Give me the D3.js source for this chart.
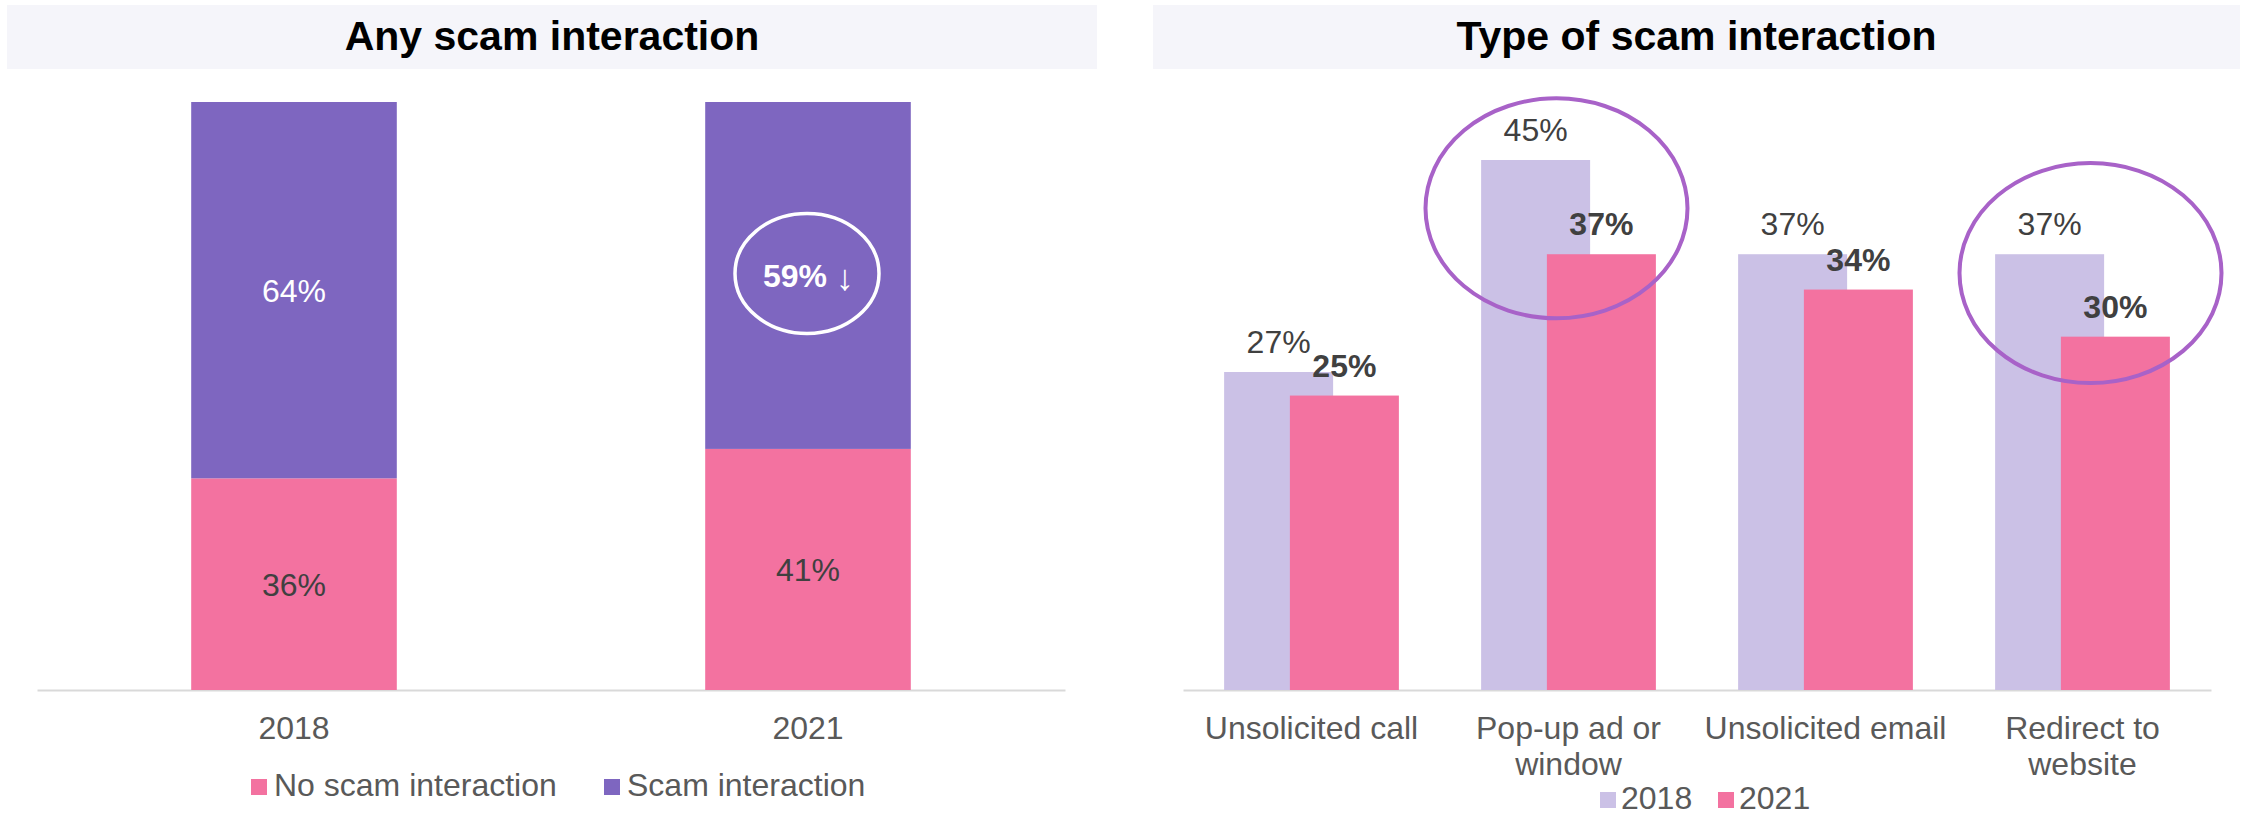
<!DOCTYPE html>
<html>
<head>
<meta charset="utf-8">
<script src="https://cdn.jsdelivr.net/npm/d3@7"></script>
<style>
  body { margin: 0; background: #fff; }
  text { font-family: 'Liberation Sans', Arial, sans-serif; }
</style>
</head>
<body>
<svg id="chart"></svg>
<script>
// left panel: any scam interaction
const years = ['2018', '2021']
const noScam = [36, 41]
const scam = [64, 59]

// right panel: type of scam interaction
const types = ['Unsolicited call', 'Pop-up ad or window', 'Unsolicited email', 'Redirect to website']
const typeLines = [['Unsolicited call'], ['Pop-up ad or', 'window'], ['Unsolicited email'], ['Redirect to', 'website']]
const v2018 = [27, 45, 37, 37]
const v2021 = [25, 37, 34, 30]
const seriesNames = ['2018', '2021']

const width = 2249
const height = 817
const pink = '#f372a0'
const purple = '#7e66c0'
const lavender = '#cbc1e6'
const ring = '#a862c8'

const svg = d3.select('#chart').attr('width', width).attr('height', height)

// title bands
const panels = [
    { title: 'Any scam interaction', x0: 7, x1: 1097 },
    { title: 'Type of scam interaction', x0: 1153, x1: 2240 },
]
panels.forEach((p) => {
    svg.append('rect')
        .attr('x', p.x0).attr('y', 5)
        .attr('width', p.x1 - p.x0).attr('height', 64)
        .attr('fill', '#f5f5fa')
    svg.append('text')
        .attr('x', (p.x0 + p.x1) / 2).attr('y', 50)
        .attr('text-anchor', 'middle')
        .attr('font-size', 41).attr('font-weight', 'bold')
        .attr('fill', '#000')
        .text(p.title)
})

const baseY = 690

// ---------- left: stacked bars ----------
const xL = d3.scaleBand().domain(years).range([37, 1065]).paddingInner(0.6).paddingOuter(0.3)
const yL = d3.scaleLinear().domain([0, 100]).range([baseY, 102])

const axisL = svg.append('g')
    .attr('transform', `translate(0,${baseY})`)
    .call(d3.axisBottom(xL).tickSize(0).tickPadding(26))
axisL.select('.domain').attr('stroke', '#d9d9d9').attr('stroke-width', 2)
axisL.selectAll('text').attr('font-size', 32).attr('fill', '#595959').attr('font-family', 'Liberation Sans, Arial, sans-serif')

years.forEach((yr, i) => {
    svg.append('rect')
        .attr('x', xL(yr)).attr('width', xL.bandwidth())
        .attr('y', yL(noScam[i])).attr('height', yL(0) - yL(noScam[i]))
        .attr('fill', pink)
    svg.append('rect')
        .attr('x', xL(yr)).attr('width', xL.bandwidth())
        .attr('y', yL(noScam[i] + scam[i])).attr('height', yL(noScam[i]) - yL(noScam[i] + scam[i]))
        .attr('fill', purple)

    const cx = xL(yr) + xL.bandwidth() / 2
    svg.append('text')
        .attr('x', cx).attr('y', yL(noScam[i] / 2)).attr('dy', '0.36em')
        .attr('text-anchor', 'middle').attr('font-size', 32).attr('fill', '#404040')
        .text(noScam[i] + '%')

    const midY = yL(noScam[i] + scam[i] / 2)
    if (i === years.length - 1) {
        // highlighted latest value
        svg.append('ellipse')
            .attr('cx', cx - 1).attr('cy', midY - 2)
            .attr('rx', 72).attr('ry', 60)
            .attr('fill', 'none').attr('stroke', '#fff').attr('stroke-width', 3.5)
        svg.append('text')
            .attr('x', cx - 45).attr('y', midY).attr('dy', '0.36em')
            .attr('font-size', 32).attr('font-weight', 'bold').attr('fill', '#fff')
            .text(scam[i] + '%')
        svg.append('text')
            .attr('x', cx + 37).attr('y', midY).attr('dy', '0.4em')
            .attr('text-anchor', 'middle')
            .attr('font-family', 'Noto Sans CJK SC, DejaVu Sans, sans-serif')
            .attr('font-size', 36).attr('fill', '#fff')
            .text('\u2193')
    } else {
        svg.append('text')
            .attr('x', cx).attr('y', midY).attr('dy', '0.36em')
            .attr('text-anchor', 'middle').attr('font-size', 32).attr('fill', '#fff')
            .text(scam[i] + '%')
    }
})

// left legend
const legL = [
    { name: 'No scam interaction', color: pink, x: 251 },
    { name: 'Scam interaction', color: purple, x: 604 },
]
legL.forEach((d) => {
    svg.append('rect').attr('x', d.x).attr('y', 779).attr('width', 16).attr('height', 16).attr('fill', d.color)
    svg.append('text').attr('x', d.x + 23).attr('y', 796)
        .attr('font-size', 32).attr('fill', '#595959').text(d.name)
})

// ---------- right: overlapping grouped bars ----------
const xR = d3.scaleBand().domain(types).range([1183, 2211]).paddingInner(0.32).paddingOuter(0.16)
const yR = d3.scaleLinear().domain([0, 45]).range([baseY, 160])
const barW = 109

const axisR = svg.append('g')
    .attr('transform', `translate(0,${baseY})`)
    .call(d3.axisBottom(xR).tickSize(0).tickPadding(26))
axisR.select('.domain').attr('stroke', '#d9d9d9').attr('stroke-width', 2)
axisR.selectAll('text')
    .attr('font-size', 32).attr('fill', '#595959').attr('font-family', 'Liberation Sans, Arial, sans-serif')
    .each(function (d) {
        const lines = typeLines[types.indexOf(d)]
        const el = d3.select(this).text(null)
        lines.forEach((ln, k) => {
            el.append('tspan').attr('x', 0).attr('dy', k === 0 ? '0.71em' : '1.13em').text(ln)
        })
    })

const series = [
    { name: '2018', values: v2018, color: lavender, bold: false },
    { name: '2021', values: v2021, color: pink, bold: true },
]
series.forEach((s, si) => {
    types.forEach((t, i) => {
        const x = xR(t) + si * (xR.bandwidth() - barW)
        svg.append('rect')
            .attr('x', x).attr('width', barW)
            .attr('y', yR(s.values[i])).attr('height', yR(0) - yR(s.values[i]))
            .attr('fill', s.color)
    })
})
series.forEach((s, si) => {
    types.forEach((t, i) => {
        const x = xR(t) + si * (xR.bandwidth() - barW)
        svg.append('text')
            .attr('x', x + barW / 2).attr('y', yR(s.values[i]) - 19)
            .attr('text-anchor', 'middle').attr('font-size', 32)
            .attr('font-weight', s.bold ? 'bold' : 'normal')
            .attr('fill', '#404040')
            .text(s.values[i] + '%')
    })
})

// highlight rings
const rings = [
    { type: 'Pop-up ad or window', at: 40.9, dx: -12 },
    { type: 'Redirect to website', at: 35.4, dx: 8 },
]
rings.forEach((r) => {
    svg.append('ellipse')
        .attr('cx', xR(r.type) + xR.bandwidth() / 2 + r.dx)
        .attr('cy', yR(r.at))
        .attr('rx', 131).attr('ry', 110)
        .attr('fill', 'none').attr('stroke', ring).attr('stroke-width', 4)
})

// right legend
seriesNames.forEach((name, i) => {
    const x = 1600 + i * 118
    svg.append('rect').attr('x', x).attr('y', 792).attr('width', 16).attr('height', 16)
        .attr('fill', series[i].color)
    svg.append('text').attr('x', x + 21).attr('y', 809)
        .attr('font-size', 32).attr('fill', '#595959').text(name)
})
</script>
</body>
</html>
